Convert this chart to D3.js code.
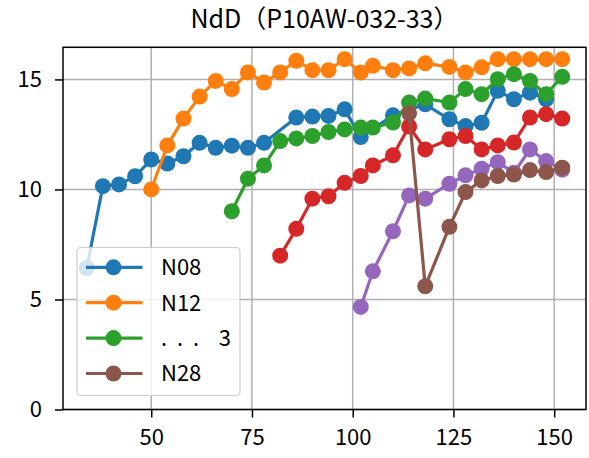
<!DOCTYPE html>
<html><head><meta charset="utf-8">
<script src="https://cdn.jsdelivr.net/npm/d3@7"></script>
<style>html,body{margin:0;padding:0;background:#fff;}svg{display:block;}</style>
</head><body>
<svg id="chart" width="589" height="458"></svg>
<script>
const title = "NdD（P10AW-032-33）";
const xN08 = [34,38,42,46,50,54,58,62,66,70,74,78,86,90,94,98,102,110,118,124,128,132,136,140,144,148];
const yN08 = [6.43,10.15,10.23,10.6,11.36,11.18,11.51,12.12,11.89,11.99,11.89,12.12,13.27,13.31,13.34,13.64,12.38,13.37,13.87,13.19,12.88,13.03,14.48,14.1,14.4,14.1];
const xN12 = [50,54,58,62,66,70,74,78,82,86,90,94,98,102,105,110,114,118,124,128,132,136,140,144,148,152];
const yN12 = [10.0,12.0,13.22,14.22,14.93,14.56,15.32,14.86,15.32,15.85,15.42,15.42,15.92,15.32,15.62,15.42,15.5,15.73,15.57,15.32,15.55,15.92,15.92,15.92,15.92,15.92];
const xS3 = [70,74,78,82,86,90,94,98,102,105,110,114,118,124,128,132,136,140,144,148,152];
const yS3 = [9.01,10.49,11.09,12.2,12.32,12.43,12.61,12.73,12.81,12.81,13.04,13.95,14.13,13.95,14.56,14.33,15.01,15.24,14.93,14.33,15.12];
const xS4 = [82,86,90,94,98,102,105,110,114,118,124,128,132,136,140,144,148,152];
const yS4 = [6.99,8.21,9.58,9.69,10.3,10.61,11.09,11.55,12.86,11.82,12.28,12.43,11.82,12.0,12.13,13.27,13.42,13.22];
const xS5 = [102,105,110,114,118,124,128,132,136,140,144,148,152];
const yS5 = [4.66,6.28,8.1,9.73,9.58,10.26,10.64,10.94,11.24,10.76,11.82,11.29,10.9];
const xN28 = [114,118,124,128,132,136,140,144,148,152];
const yN28 = [13.46,5.6,8.3,9.88,10.41,10.61,10.68,10.88,10.79,10.99];
const xTicks = [50,75,100,125,150];
const yTicks = [0,5,10,15];

const series = [
  {label:"N08", xs:xN08, ys:yN08, color:"#1f77b4", legend:true},
  {label:"N12", xs:xN12, ys:yN12, color:"#ff7f0e", legend:true},
  {label:".  .  .    3", xs:xS3, ys:yS3, color:"#2ca02c", legend:true},
  {label:"", xs:xS4, ys:yS4, color:"#d62728", legend:false},
  {label:"", xs:xS5, ys:yS5, color:"#9467bd", legend:false},
  {label:"N28", xs:xN28, ys:yN28, color:"#8c564b", legend:true}
];

const FONT = "'Noto Sans CJK JP','Noto Sans CJK SC','DejaVu Sans',sans-serif";
const L=63, R=586, T=47.3, B=409.5;
const svg = d3.select("#chart");
const x = d3.scaleLinear().domain([28.1,157.9]).range([L,R]);
const y = d3.scaleLinear().domain([0,16.46]).range([B,T]);

// grid
const g = svg.append("g");
g.selectAll("line.vg").data(xTicks).join("line")
  .attr("x1",d=>x(d)).attr("x2",d=>x(d)).attr("y1",T).attr("y2",B)
  .attr("stroke","#b0b0b0").attr("stroke-width",1.5);
g.selectAll("line.hg").data(yTicks).join("line")
  .attr("y1",d=>y(d)).attr("y2",d=>y(d)).attr("x1",L).attr("x2",R)
  .attr("stroke","#b0b0b0").attr("stroke-width",1.5);

// series
const line = d3.line().x(d=>x(d[0])).y(d=>y(d[1]));
series.forEach(s=>{
  const pts = s.xs.map((v,i)=>[v,s.ys[i]]);
  const sg = svg.append("g");
  sg.append("path").attr("d",line(pts)).attr("fill","none")
    .attr("stroke",s.color).attr("stroke-width",3.2).attr("stroke-linejoin","round");
  sg.selectAll("circle").data(pts).join("circle")
    .attr("cx",d=>x(d[0])).attr("cy",d=>y(d[1])).attr("r",8).attr("fill",s.color);
});

// axes
const xAxis = d3.axisBottom(x).tickValues(xTicks).tickSize(8).tickPadding(12).tickFormat(d3.format("d"));
const yAxis = d3.axisLeft(y).tickValues(yTicks).tickSize(8).tickPadding(13).tickFormat(d3.format("d"));
const gx = svg.append("g").attr("transform",`translate(0,${B})`).call(xAxis);
const gy = svg.append("g").attr("transform",`translate(${L},0)`).call(yAxis);
[gx,gy].forEach(a=>{
  a.select(".domain").remove();
  a.selectAll(".tick line").attr("stroke","#000").attr("stroke-width",1.5);
  a.selectAll(".tick text").attr("font-family",FONT).attr("font-size",22).attr("fill","#000");
});
svg.append("rect").attr("x",L).attr("y",T).attr("width",R-L).attr("height",B-T)
  .attr("fill","none").attr("stroke","#000").attr("stroke-width",1.5);

// title
svg.append("text").attr("x",(L+R)/2).attr("y",28).attr("text-anchor","middle")
  .attr("font-family",FONT).attr("font-size",25).attr("fill","#000").text(title);

// legend
const leg = series.filter(s=>s.legend);
const lg = svg.append("g");
lg.append("rect").attr("x",77).attr("y",247.5).attr("width",163).attr("height",148).attr("rx",4)
  .attr("fill","#fff").attr("fill-opacity",0.8).attr("stroke","#cccccc").attr("stroke-width",1.2);
leg.forEach((s,i)=>{
  const yy = 267.3 + i*35.4;
  lg.append("line").attr("x1",86).attr("x2",142.5).attr("y1",yy).attr("y2",yy)
    .attr("stroke",s.color).attr("stroke-width",3.2);
  lg.append("circle").attr("cx",113.5).attr("cy",yy).attr("r",8).attr("fill",s.color);
  lg.append("text").attr("x",161).attr("y",yy).attr("dy","0.36em")
    .attr("font-family",FONT).attr("font-size",22).attr("fill","#000")
    .style("white-space","pre").text(s.label);
});
</script>
</body></html>
